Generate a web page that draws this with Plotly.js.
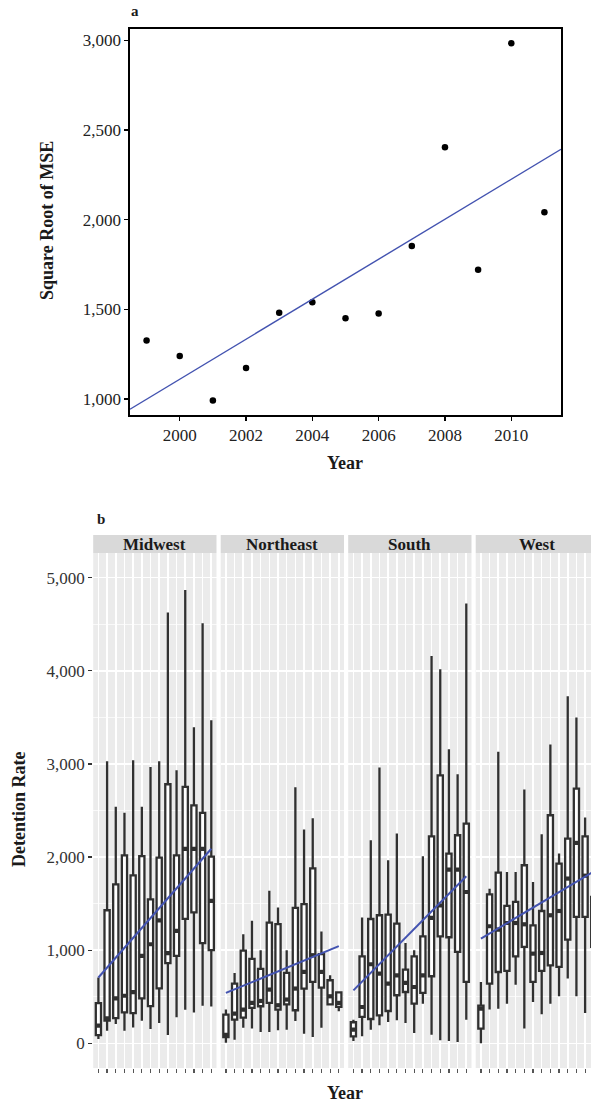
<!DOCTYPE html>
<html><head><meta charset="utf-8">
<script src="https://cdn.plot.ly/plotly-3.0.1.min.js"></script>
<style>html,body{margin:0;padding:0;overflow:hidden;background:#fff}#chart{width:600px;height:1103px}</style>
</head><body><div id="chart"></div>
<script>
// ---------- Panel a data ----------
const yearsA = [1999,2000,2001,2002,2003,2004,2005,2006,2007,2008,2009,2010,2011];
const rmseA  = [1326,1239,991,1172,1481,1539,1450,1476,1853,2404,1720,2983,2041];
const yearTicksA = [2000,2002,2004,2006,2008,2010];

// ---------- Panel b data ----------
const regions = ['Midwest','Northeast','South','West'];
const yearsB = [1998,1999,2000,2001,2002,2003,2004,2005,2006,2007,2008,2009,2010,2011];

const mwLow  = [46,136,207,136,171,243,154,218,89,279,361,332,404,396];
const mwQ1   = [89,243,271,332,325,482,400,589,861,939,1336,1407,1075,1000];
const mwMed  = [189,268,482,511,550,939,1064,1321,968,1207,2089,2089,2089,1529];
const mwQ3   = [432,1429,1707,2018,1804,2011,1546,1993,2782,2018,2753,2556,2475,2004];
const mwHigh = [707,3030,2540,2475,3039,2540,2968,3029,4625,2932,4868,3393,4511,3468];

const neLow  = [5,39,168,158,122,122,140,147,240,104,68,168,405,344];
const neQ1   = [68,254,276,380,398,434,362,419,355,588,659,599,419,391];
const neMed  = [90,319,362,434,455,577,409,470,588,767,946,767,505,434];
const neQ3   = [308,642,996,907,799,1297,1280,756,1455,1495,1878,957,677,548];
const neHigh = [362,756,1172,1315,1000,1638,1459,1000,2749,2297,2416,1200,731,548];

const soLow  = [25,75,147,193,229,247,218,111,426,93,32,25,14,254];
const soQ1   = [75,283,261,301,347,516,551,426,541,720,1149,1139,981,659];
const soMed  = [147,390,849,748,641,730,648,605,730,1346,1480,1866,1866,1625];
const soQ3   = [226,934,1335,1375,1382,1285,791,934,1149,2223,2878,2037,2234,2360];
const soHigh = [254,1350,2180,2961,1966,2252,1078,1000,2008,4160,4017,3158,2889,4723];

const weLow  = [0,362,372,426,630,158,444,311,426,505,695,505,326,400];
const weQ1   = [158,641,766,777,934,1035,659,777,838,820,1113,1357,1357,1035];
const weMed  = [372,1257,1221,1292,1292,1278,963,970,1375,1421,1769,2152,1800,1250];
const weQ3   = [405,1600,1833,1475,1518,1912,1267,1421,2449,1930,2198,2735,2223,1572];
const weHigh = [659,1661,3130,1840,1840,2725,1733,2245,3208,2037,3727,3498,2424,1800];

// fitted trend per region: value at first and last year
const trendStart = [707,541,569,1124];
const trendEnd   = [2089,1043,1794,1845];

// ---------- layout helpers ----------
const W = 600, H = 1103;
const px = v => v / W;
const py = v => 1 - v / H;
const FONT = 'Liberation Serif, Times New Roman, serif';
const BLUE = '#4353B0';
const BOXC = '#303030';

const stats = [
  [mwLow,mwQ1,mwMed,mwQ3,mwHigh],
  [neLow,neQ1,neMed,neQ3,neHigh],
  [soLow,soQ1,soMed,soQ3,soHigh],
  [weLow,weQ1,weMed,weQ3,weHigh]
];

const traces = [];
// panel a
traces.push({type:'scatter', mode:'markers', x: yearsA, y: rmseA, xaxis:'x', yaxis:'y',
  marker:{color:'#000', size:6.5}, hoverinfo:'skip', showlegend:false});
(function(){
  const n = yearsA.length;
  const mx = yearsA.reduce((a,b)=>a+b,0)/n, my = rmseA.reduce((a,b)=>a+b,0)/n;
  let sxy=0, sxx=0;
  for (let i=0;i<n;i++){ sxy += (yearsA[i]-mx)*(rmseA[i]-my); sxx += (yearsA[i]-mx)**2; }
  const b = sxy/sxx, a0 = my - b*mx;
  const xr = [1998.5, 2011.5];
  traces.push({type:'scatter', mode:'lines', x: xr, y: xr.map(x=>a0+b*x), xaxis:'x', yaxis:'y',
    line:{color:BLUE, width:1.4}, hoverinfo:'skip', showlegend:false});
})();

const idx = yearsB.map((_,i)=>i);
const BW = 0.6;
regions.forEach((r,k)=>{
  const xa = 'x'+(k+2);
  const [lo,q1,md,q3,hi] = stats[k];
  traces.push({type:'box', x: idx, q1:q1, median:md, q3:q3, lowerfence:lo, upperfence:hi,
    xaxis:xa, yaxis:'y2', fillcolor:'#fff', line:{color:BOXC, width:2.3},
    whiskerwidth:0, width:BW, boxpoints:false, hoverinfo:'skip', showlegend:false});
  const mx=[], my=[];
  idx.forEach((x,i)=>{ mx.push(x-BW/2, x+BW/2, null); my.push(md[i], md[i], null); });
  traces.push({type:'scatter', mode:'lines', x:mx, y:my, xaxis:xa, yaxis:'y2',
    line:{color:BOXC, width:4.2}, hoverinfo:'skip', showlegend:false});
  traces.push({type:'scatter', mode:'lines', x:[idx[0], idx[idx.length-1]], y:[trendStart[k], trendEnd[k]],
    xaxis:xa, yaxis:'y2', line:{color:BLUE, width:2}, hoverinfo:'skip', showlegend:false});
});

const layout = {
  width: W, height: H, margin:{l:0,r:0,t:0,b:0},
  paper_bgcolor:'#fff', plot_bgcolor:'rgba(0,0,0,0)',
  showlegend:false, separators:'.,',
  font:{family:FONT, color:'#222'},
  xaxis:{domain:[px(130), px(561)], range:[1998.5, 2011.5], anchor:'y',
    tickvals: yearTicksA, ticks:'outside', ticklen:4, tickwidth:1.3, tickcolor:'#000',
    showline:true, mirror:true, linecolor:'#000', linewidth:1.6, showgrid:false, zeroline:false,
    tickfont:{family:FONT, size:17, color:'#222'}},
  yaxis:{domain:[py(415), py(29)], range:[910, 3063], anchor:'x',
    dtick:500, tick0:0, tickformat:',d', ticks:'outside', ticklen:4, tickwidth:1.3, tickcolor:'#000',
    showline:true, mirror:true, linecolor:'#000', linewidth:1.6, showgrid:false, zeroline:false,
    tickfont:{family:FONT, size:17, color:'#222'}},
  yaxis2:{domain:[py(1068), py(553)], range:[-265, 5265], anchor:'x2',
    dtick:1000, tick0:0, tickformat:',d', ticks:'outside', ticklen:4, tickwidth:1.2, tickcolor:'#333',
    showgrid:true, gridcolor:'#fff', gridwidth:1.6, zeroline:false, showline:false,
    minor:{dtick:500, tick0:0, showgrid:true, gridcolor:'#fff', gridwidth:0.7, ticks:''},
    tickfont:{family:FONT, size:17, color:'#333'}},
  shapes:[], annotations:[]
};

const starts = [93.2, 220.7, 348.2, 475.7];
const PW = 123.3;
regions.forEach((r,k)=>{
  const name = 'xaxis'+(k+2);
  layout[name] = {domain:[px(starts[k]), px(starts[k]+PW)], range:[-0.6, 13.6], anchor:'y2',
    tickvals: idx, showticklabels:false, ticks:'outside', ticklen:4, tickwidth:1.2, tickcolor:'#555',
    showgrid:true, gridcolor:'#fff', gridwidth:1.6, zeroline:false, showline:false};
  layout.shapes.push({type:'rect', xref:'x'+(k+2)+' domain', yref:'y2 domain', x0:0, x1:1, y0:0, y1:1,
    fillcolor:'#EBEBEB', line:{width:0}, layer:'below'});
  layout.shapes.push({type:'rect', xref:'x'+(k+2)+' domain', yref:'paper', x0:0, x1:1, y0:py(553), y1:py(535),
    fillcolor:'#D9D9D9', line:{width:0}, layer:'below'});
  layout.annotations.push({text:'<b>'+r+'</b>', xref:'x'+(k+2)+' domain', yref:'paper', x:0.5, y:py(544),
    xanchor:'center', yanchor:'middle', showarrow:false, font:{family:FONT, size:17, color:'#1a1a1a'}});
});

function ann(text, x, y, size, angle){
  layout.annotations.push({text:text, xref:'paper', yref:'paper', x:px(x), y:py(y),
    xanchor:'center', yanchor:'middle', showarrow:false, textangle:angle||0,
    font:{family:FONT, size:size, color:'#1a1a1a'}});
}
ann('<b>a</b>', 135, 11, 15);
ann('<b>b</b>', 101, 519, 15);
ann('<b>Square Root of MSE</b>', 47, 221, 18, -90);
ann('<b>Year</b>', 345, 463, 18);
ann('<b>Detention Rate</b>', 19, 810, 18, -90);
ann('<b>Year</b>', 345, 1093, 18);

Plotly.newPlot('chart', traces, layout, {staticPlot:true, responsive:false});
</script></body></html>
